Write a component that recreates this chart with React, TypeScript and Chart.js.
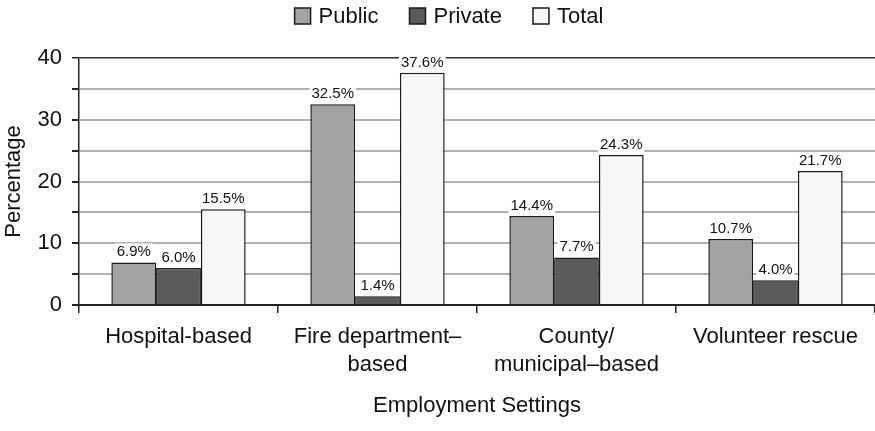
import React, { useEffect, useRef } from "react";
import { Chart, registerables } from "chart.js";

Chart.register(...registerables);

const categories: (string | string[])[] = [
  "Hospital-based",
  ["Fire department–", "based"],
  ["County/", "municipal–based"],
  "Volunteer rescue",
];
const publicValues = [6.9, 32.5, 14.4, 10.7];
const privateValues = [6.0, 1.4, 7.7, 4.0];
const totalValues = [15.5, 37.6, 24.3, 21.7];
const seriesNames = ["Public", "Private", "Total"];
const seriesColors = ["#a3a3a3", "#5a5a5a", "#f7f7f7"];
const yTicks = [0, 10, 20, 30, 40];

const FONT = "'Liberation Sans', Arial, Helvetica, sans-serif";

const labelPlugin = {
  id: "barLabels",
  afterDatasetsDraw(chart: any) {
    const ctx = chart.ctx;
    ctx.save();
    ctx.font = `15px ${FONT}`;
    ctx.textAlign = "center";
    ctx.textBaseline = "alphabetic";
    chart.data.datasets.forEach((ds: any, i: number) => {
      const meta = chart.getDatasetMeta(i);
      meta.data.forEach((el: any, j: number) => {
        const txt = `${Number(ds.data[j]).toFixed(1)}%`;
        const w = ctx.measureText(txt).width;
        ctx.fillStyle = "#ffffff";
        ctx.fillRect(el.x - w / 2 - 2, el.y - 19, w + 4, 17);
        ctx.fillStyle = "#111";
        ctx.fillText(txt, el.x, el.y - 6);
      });
    });
    ctx.restore();
  },
};

const legendPlugin = {
  id: "customLegend",
  afterDraw(chart: any) {
    const ctx = chart.ctx;
    ctx.save();
    ctx.font = `22px ${FONT}`;
    ctx.textBaseline = "middle";
    const box = 16;
    const gapBoxText = 8;
    const gapItems = 31;
    const widths = chart.data.datasets.map(
      (ds: any) => box + gapBoxText + ctx.measureText(ds.label).width
    );
    const total = widths.reduce((a: number, b: number) => a + b, 0) + gapItems * (widths.length - 1);
    let x = 449 - total / 2;
    const cy = 16;
    chart.data.datasets.forEach((ds: any, i: number) => {
      ctx.fillStyle = ds.backgroundColor;
      ctx.fillRect(x, cy - box / 2, box, box);
      ctx.strokeStyle = "#1a1a1a";
      ctx.lineWidth = 1.5;
      ctx.strokeRect(x, cy - box / 2, box, box);
      ctx.fillStyle = "#111";
      ctx.fillText(ds.label, x + box + gapBoxText, cy + 1);
      x += widths[i] + gapItems;
    });
    ctx.restore();
  },
};

export default function App() {
  const canvasRef = useRef<HTMLCanvasElement | null>(null);

  useEffect(() => {
    document.body.style.margin = "0";
    const canvas = canvasRef.current;
    if (!canvas) return;
    const values = [publicValues, privateValues, totalValues];
    const chart = new Chart(canvas, {
      type: "bar",
      data: {
        labels: categories as any,
        datasets: seriesNames.map((name, i) => ({
          label: name,
          data: values[i],
          backgroundColor: seriesColors[i],
          borderColor: "#1a1a1a",
          borderWidth: 1.5,
          categoryPercentage: 0.675,
          barPercentage: 1.0,
        })),
      },
      options: {
        animation: false,
        responsive: false,
        devicePixelRatio: 1,
        layout: { padding: { top: 58, right: 0, left: 0, bottom: 0 } },
        plugins: {
          legend: { display: false },
          tooltip: { enabled: false },
        },
        scales: {
          x: {
            offset: true,
            grid: {
              offset: true,
              drawOnChartArea: false,
              drawTicks: true,
              tickLength: 8,
              tickColor: "#222",
              lineWidth: 1.5,
            },
            border: { display: true, color: "#222", width: 2 },
            ticks: {
              color: "#111",
              font: { family: FONT, size: 22, lineHeight: 1.27 },
              padding: 10,
              maxRotation: 0,
              autoSkip: false,
            },
            title: {
              display: true,
              text: "Employment Settings",
              color: "#111",
              font: { family: FONT, size: 22 },
              padding: { top: 12, bottom: 12 },
            },
            afterFit: (scale: any) => {
              scale.height = 126;
            },
          },
          y: {
            min: 0,
            max: 40,
            ticks: {
              stepSize: 5,
              color: "#111",
              font: { family: FONT, size: 22 },
              padding: 10,
              callback: (v: any) => (yTicks.includes(Number(v)) ? String(v) : ""),
            },
            grid: {
              color: (c: any) =>
                c.tick && (c.tick.value === 40 || c.tick.value === 0) ? "#333" : "#b0b0b0",
              lineWidth: (c: any) => (c.tick && c.tick.value === 40 ? 1.5 : 2),
              tickLength: 7,
              tickColor: "#222",
            },
            border: { display: true, color: "#222", width: 1.5 },
            title: {
              display: true,
              text: "Percentage",
              color: "#111",
              font: { family: FONT, size: 22 },
              padding: { top: 1, bottom: 1 },
            },
            afterFit: (scale: any) => {
              scale.width = 79;
            },
          },
        },
      },
      plugins: [labelPlugin, legendPlugin],
    });
    return () => chart.destroy();
  }, []);

  return (
    <div style={{ width: 875, height: 431, position: "relative", background: "#fff" }}>
      <canvas ref={canvasRef} width={875} height={431} />
    </div>
  );
}
